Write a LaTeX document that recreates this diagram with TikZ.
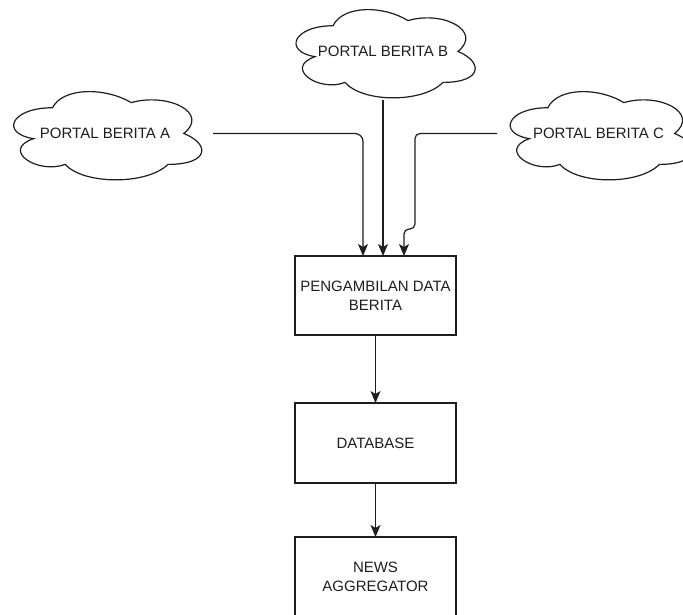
\documentclass[tikz,border=0pt]{standalone}
\usepackage{fontspec}
\setmainfont{Liberation Sans}
\usetikzlibrary{arrows.meta,calc}
\definecolor{ink}{HTML}{1E1E1E}
\tikzset{
  base/.style={x={(1pt,0)},y={(0,-1pt)}},
  box/.style={draw=ink, line width=1.2pt, minimum width=161pt, minimum height=80pt, inner sep=0pt, outer sep=0pt, align=center, font=\fontsize{15}{19}\selectfont, text=ink},
  cloudtxt/.style={inner sep=0pt, outer sep=0pt, minimum width=#1, minimum height=103pt, font=\fontsize{15}{19}\selectfont, text=ink},
  cloudline/.style={draw=ink, line width=1.2pt, fill=white},
  arr/.style={draw=ink, line width=1.2pt, -{Stealth[length=12pt,width=10pt,inset=3pt]}},
}
\newcommand{\cloudpath}[3]{%
  \path[cloudline, shift={(#1.north west)}, x=#2, y=-#3]
    (0.25,0.25) .. controls (0.05,0.25) and (0,0.5) .. (0.16,0.55)
    .. controls (0,0.66) and (0.18,0.9) .. (0.31,0.8)
    .. controls (0.4,1) and (0.7,1) .. (0.8,0.8)
    .. controls (1,0.8) and (1,0.6) .. (0.875,0.5)
    .. controls (1,0.3) and (0.8,0.1) .. (0.625,0.2)
    .. controls (0.5,0.05) and (0.3,0.05) .. (0.25,0.25) -- cycle;}
\begin{document}
\begin{tikzpicture}[base]
\fill[white] (0,0) rectangle (683,615);
\useasboundingbox (0,0) rectangle (683,615);
\clip (0,0) rectangle (683,615);
% cloud outlines (positions via invisible nodes)
\path (105,133.5) node[cloudtxt=210pt] (cA) {};
\path (383,51.5) node[cloudtxt=200pt] (cB) {};
\path (598.5,133.5) node[cloudtxt=203pt] (cC) {};
\cloudpath{cA}{210pt}{103pt}
\cloudpath{cB}{200pt}{103pt}
\cloudpath{cC}{203pt}{103pt}
\node[font=\fontsize{15}{19}\selectfont, text=ink] at (cA) {PORTAL BERITA A};
\node[font=\fontsize{15}{19}\selectfont, text=ink] at (cB) {PORTAL BERITA B};
\node[font=\fontsize{15}{19}\selectfont, text=ink] at (cC) {PORTAL BERITA C};
% boxes
\node[box, minimum height=79pt] (p1) at (375.5,295.5) {PENGAMBILAN DATA\\BERITA};
\node[box] (db) at (375.5,443) {DATABASE};
\node[box] (na) at (375.5,577) {NEWS\\AGGREGATOR};
% connectors
\draw[arr, rounded corners=8pt] ([xshift=3pt]cA.east) -| ([xshift=-12.5pt]p1.north);
\draw[arr] ([yshift=3pt]cB.south) -- ([xshift=7.5pt]p1.north);
\draw[arr, rounded corners=5pt] (cC.west) -- (415,133.5) -- (415,229) -- (404,229) -- ([xshift=28.5pt]p1.north);
\draw[arr] (p1.south) -- (db.north);
\draw[arr] (db.south) -- (na.north);
\end{tikzpicture}
\end{document}
